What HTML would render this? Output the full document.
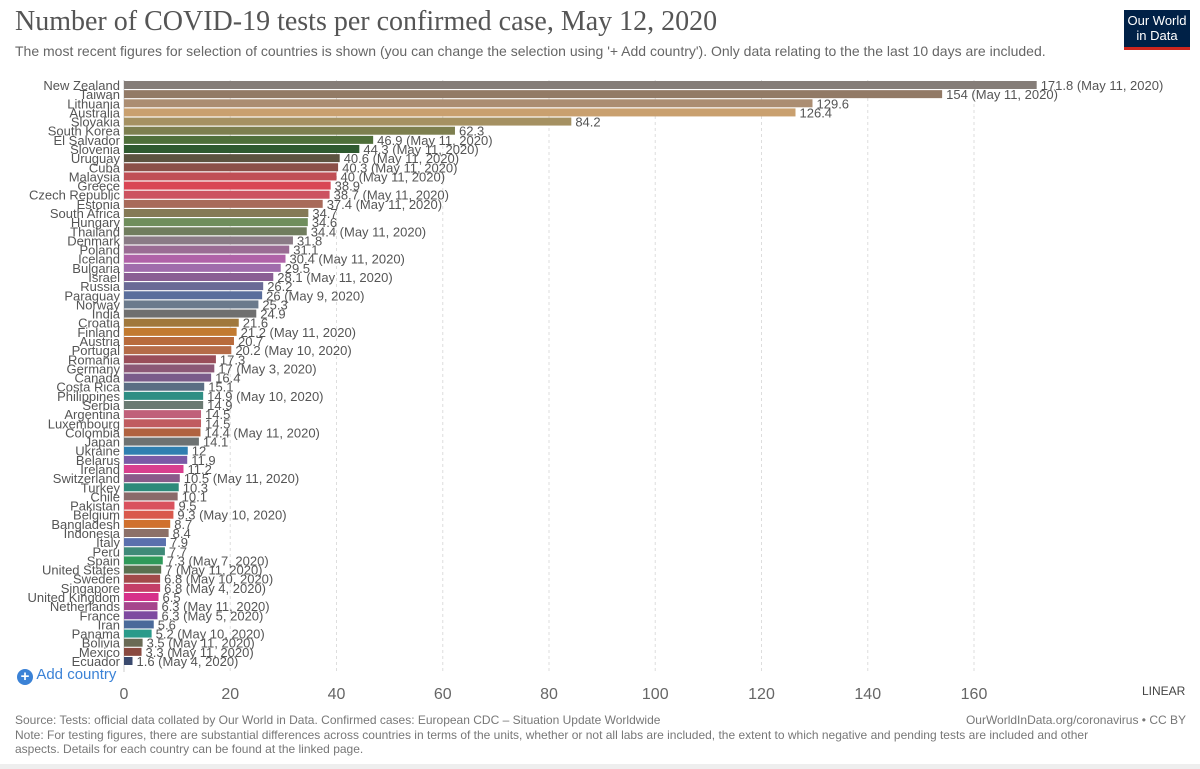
<!DOCTYPE html>
<html><head><meta charset="utf-8"><style>
body{margin:0;background:#fff;font-family:"Liberation Sans",sans-serif;}
#wrap{position:relative;width:1200px;height:769px;overflow:hidden;}
.t{position:absolute;white-space:nowrap;}
</style></head><body>
<div id="wrap">
<div class="t" style="left:15px;top:6px;font-family:'Liberation Serif',serif;font-size:28px;color:#555;">Number of COVID-19 tests per confirmed case, May 12, 2020</div>
<div class="t" style="left:15px;top:43px;font-size:14px;color:#666;">The most recent figures for selection of countries is shown (you can change the selection using '+ Add country'). Only data relating to the the last 10 days are included.</div>
<div style="position:absolute;left:1124px;top:10px;width:66px;height:40px;background:#002147;border-bottom:3px solid #ce261e;color:#fff;font-size:13px;line-height:15px;text-align:center;padding-top:3px;box-sizing:border-box;">Our World<br>in Data</div>
<svg id="plot" width="1200" height="769" style="position:absolute;left:0;top:0"></svg>
<div class="t" style="left:17px;top:666px;font-size:15px;color:#3b82d6;"><span style="display:inline-block;width:16px;height:16px;border-radius:8px;background:#3b82d6;color:#fff;text-align:center;line-height:16px;font-weight:bold;font-size:15px;vertical-align:-2px">+</span> Add country</div>
<div class="t" style="left:1142px;top:684px;font-size:12px;color:#444;">LINEAR</div>
<div class="t" style="left:15px;top:713px;font-size:12px;color:#777;line-height:14.5px;">Source: Tests: official data collated by Our World in Data. Confirmed cases: European CDC – Situation Update Worldwide<br>Note: For testing figures, there are substantial differences across countries in terms of the units, whether or not all labs are included, the extent to which negative and pending tests are included and other<br>aspects. Details for each country can be found at the linked page.</div>
<div class="t" style="right:14px;top:713px;font-size:12px;color:#777;">OurWorldInData.org/coronavirus • CC BY</div>
<div style="position:absolute;left:0;top:764px;width:1200px;height:5px;background:#eee"></div>
</div>
<script>
const countries=["New Zealand","Taiwan","Lithuania","Australia","Slovakia","South Korea","El Salvador","Slovenia","Uruguay","Cuba","Malaysia","Greece","Czech Republic","Estonia","South Africa","Hungary","Thailand","Denmark","Poland","Iceland","Bulgaria","Israel","Russia","Paraguay","Norway","India","Croatia","Finland","Austria","Portugal","Romania","Germany","Canada","Costa Rica","Philippines","Serbia","Argentina","Luxembourg","Colombia","Japan","Ukraine","Belarus","Ireland","Switzerland","Turkey","Chile","Pakistan","Belgium","Bangladesh","Indonesia","Italy","Peru","Spain","United States","Sweden","Singapore","United Kingdom","Netherlands","France","Iran","Panama","Bolivia","Mexico","Ecuador"];
const values=[171.8,154,129.6,126.4,84.2,62.3,46.9,44.3,40.6,40.3,40,38.9,38.7,37.4,34.7,34.6,34.4,31.8,31.1,30.4,29.5,28.1,26.2,26,25.3,24.9,21.6,21.2,20.7,20.2,17.3,17,16.4,15.1,14.9,14.9,14.5,14.5,14.4,14.1,12,11.9,11.2,10.5,10.3,10.1,9.5,9.3,8.7,8.4,7.9,7.7,7.3,7,6.8,6.8,6.5,6.3,6.3,5.6,5.2,3.5,3.3,1.6];
const dates=["May 11, 2020","May 11, 2020","","","","","May 11, 2020","May 11, 2020","May 11, 2020","May 11, 2020","May 11, 2020","","May 11, 2020","May 11, 2020","","","May 11, 2020","","","May 11, 2020","","May 11, 2020","","May 9, 2020","","","","May 11, 2020","","May 10, 2020","","May 3, 2020","","","May 10, 2020","","","","May 11, 2020","","","","","May 11, 2020","","","","May 10, 2020","","","","","May 7, 2020","May 11, 2020","May 10, 2020","May 4, 2020","","May 11, 2020","May 5, 2020","","May 10, 2020","May 11, 2020","May 11, 2020","May 4, 2020"];
const colors=["#857d78","#927a66","#ab8d72","#c9a06f","#a59162","#7d7f4f","#4f6f3a","#2f5a30","#5c5340","#8b5048","#c04f55","#d94655","#cc5260","#a86a5a","#857a56","#6f8e5c","#707d5e","#8a7b86","#9a6c94","#b062a8","#a06cac","#8a5e94","#6a6a96","#5a6e9c","#6b7a8c","#6f6f6f","#a0783c","#c27a30","#b86b3c","#b56c48","#9a4e5a","#8c5876","#7a5b8a","#5a6e84","#2f8e84","#6a7a72","#c0607a","#c05c60","#b06240","#6d7272","#2f7fb0","#7a5aa6","#d93f8e","#8a5a8a","#2e8a7a","#8a6a6a","#d9525e","#d9594c","#d0702e","#8c7068","#5a70ad","#3f8a78","#2f9a5a","#5a7050","#a24a4a","#c43e68","#d6308a","#a6458c","#7e4aa0","#4a6a9a","#2a9a8a","#6a6a55","#8a4a40","#3a4a6e"];
const ns="http://www.w3.org/2000/svg";
const svg=document.getElementById('plot');
const x0=124,pxPer=850/160,y0=85,pitch=(661-85)/63,bh=8;
const xs=v=>x0+v*pxPer;
const ys=i=>y0+i*pitch;
const ticks=[0,20,40,60,80,100,120,140,160];
function mk(t,a){const e=document.createElementNS(ns,t);for(const k in a)e.setAttribute(k,a[k]);svg.appendChild(e);return e;}
ticks.forEach(t=>{
 if(t>0){const l=mk('line',{x1:xs(t),x2:xs(t),y1:80,y2:672,stroke:'#ddd','stroke-dasharray':'3,3'});
 
 }
 const tx=mk('text',{x:xs(t),y:699,'text-anchor':'middle','font-size':'16','fill':'#666','font-family':'Liberation Sans, sans-serif'});
 tx.textContent=t;
 
 
});
const ax=mk('line',{x1:x0,x2:x0,y1:80,y2:672,stroke:'#ccc'});


countries.forEach((c,i)=>{
 const y=ys(i);
 const r=mk('rect',{x:x0,y:y-bh/2,width:Math.max(0,xs(values[i])-x0),height:bh,fill:colors[i]});
 
 
 const lb=mk('text',{x:x0-4,y:y+5,'text-anchor':'end','font-size':'13','fill':'#555','font-family':'Liberation Sans, sans-serif'});
 lb.textContent=c;
 
 
 const vl=mk('text',{x:xs(values[i])+4,y:y+5,'font-size':'13','fill':'#555','font-family':'Liberation Sans, sans-serif'});
 vl.textContent=values[i]+(dates[i]?' ('+dates[i]+')':'');
 
 
});
</script>
</body></html>
